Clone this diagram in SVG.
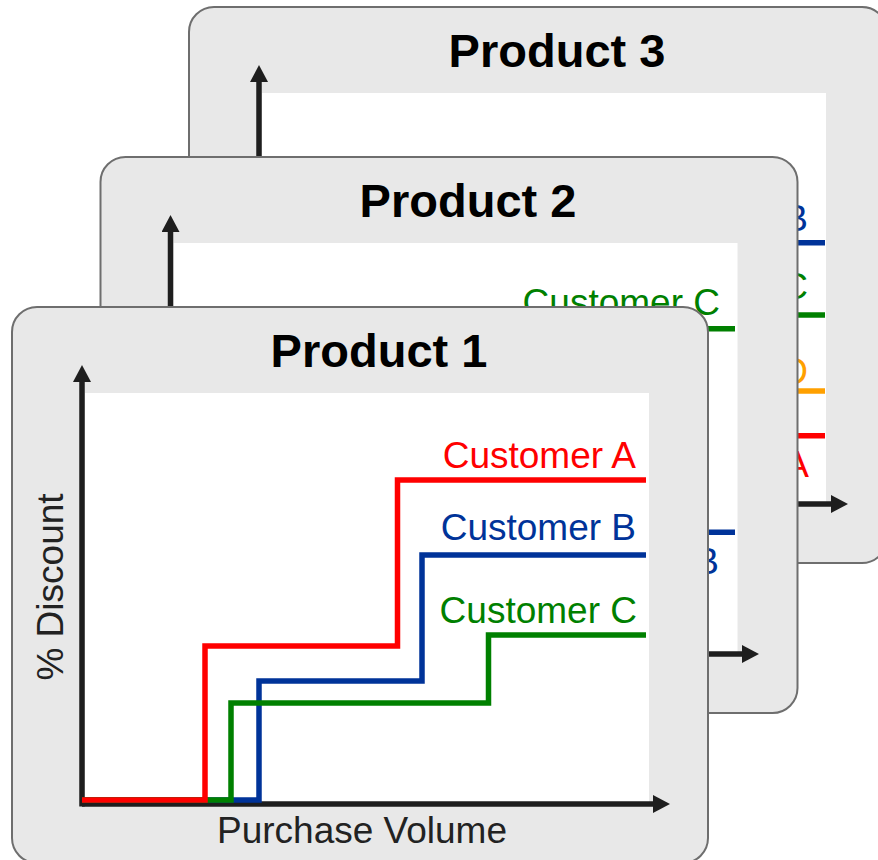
<svg xmlns="http://www.w3.org/2000/svg" width="878" height="860" viewBox="0 0 878 860">
  <style>
    .panel { fill: #e8e8e8; stroke: #6e6e6e; stroke-width: 2; }
    .plot { fill: #ffffff; }
    .axis { fill: none; stroke: #1e1e1e; stroke-width: 5.5; marker-end: url(#arrow); }
    .step { fill: none; stroke-width: 5.5; stroke-linejoin: miter; }
    .title { font-family: "Liberation Sans", Arial, sans-serif; font-weight: bold; font-size: 47px; fill: #000000; text-anchor: middle; }
    .axlabel { font-family: "Liberation Sans", Arial, sans-serif; font-size: 37px; fill: #222222; text-anchor: middle; }
    .lbl { font-family: "Liberation Sans", Arial, sans-serif; font-size: 37px; text-anchor: end; }
    .red { stroke: #ff0000; } .tred { fill: #ff0000; }
    .blue { stroke: #003399; } .tblue { fill: #003399; }
    .green { stroke: #008000; } .tgreen { fill: #008000; }
    .orange { stroke: #ffa000; } .torange { fill: #ffa000; }
  </style>
  <defs>
    <marker id="arrow" markerUnits="userSpaceOnUse" markerWidth="18" markerHeight="18" refX="0" refY="9" orient="auto">
      <path d="M0,0 L17,9 L0,18 Z" fill="#1e1e1e"/>
    </marker>
  </defs>

  <!-- Back panel: Product 3 (only the right-hand label ends show) -->
  <g id="product3">
    <rect class="panel" x="189" y="7" width="698" height="556" rx="25"/>
    <rect class="plot" x="262" y="93" width="564" height="412"/>
    <text class="title" x="557" y="67">Product 3</text>
    <g class="connectors">
      <path class="axis" d="M259,506.5 V82"/>
      <path class="axis" d="M259,504 H831"/>
    </g>
    <path class="step blue" d="M700,242.7 H825"/>
    <path class="step green" d="M700,315 H825"/>
    <path class="step orange" d="M700,391 H825"/>
    <path class="step red" d="M700,435.7 H825"/>
    <text class="lbl tblue" x="808" y="230.5">B</text>
    <text class="lbl tgreen" x="808" y="299">C</text>
    <text class="lbl torange" x="808" y="384">D</text>
    <text class="lbl tred" x="809" y="477">A</text>
  </g>

  <!-- Middle panel: Product 2 -->
  <g id="product2">
    <rect class="panel" x="100.5" y="157" width="697" height="556" rx="25"/>
    <rect class="plot" x="173.5" y="243" width="564" height="412"/>
    <text class="title" x="468" y="217">Product 2</text>
    <g class="connectors">
      <path class="axis" d="M170.5,656.5 V232"/>
      <path class="axis" d="M170.5,654 H742"/>
    </g>
    <path class="step green" d="M600,328.7 H735"/>
    <path class="step blue" d="M600,532.3 H735"/>
    <text class="lbl tgreen" x="720" y="315">Customer C</text>
    <text class="lbl tblue" x="719" y="574">B</text>
  </g>

  <!-- Front panel: Product 1 -->
  <g id="product1">
    <rect class="panel" x="12" y="307" width="696" height="556" rx="25"/>
    <rect class="plot" x="85" y="393" width="564" height="411"/>
    <text class="title" x="379" y="367">Product 1</text>
    <text class="axlabel" x="362" y="843">Purchase Volume</text>
    <text class="axlabel" transform="translate(63,587) rotate(-90)" x="0" y="0">% Discount</text>
    <g class="connectors">
      <path class="axis" d="M82,806.5 V382"/>
      <path class="axis" d="M82,804 H653"/>
    </g>
    <!-- discount steps per customer -->
    <path class="step blue" d="M82,800 H259 V681 H422 V555 H646"/>
    <path class="step green" d="M82,800 H231 V703 H488.5 V635 H646"/>
    <path class="step red" d="M82,800 H205 V646 H397.5 V480 H646"/>
    <text class="lbl tred" x="636" y="467.5">Customer A</text>
    <text class="lbl tblue" x="636" y="540">Customer B</text>
    <text class="lbl tgreen" x="637" y="623">Customer C</text>
  </g>
</svg>
